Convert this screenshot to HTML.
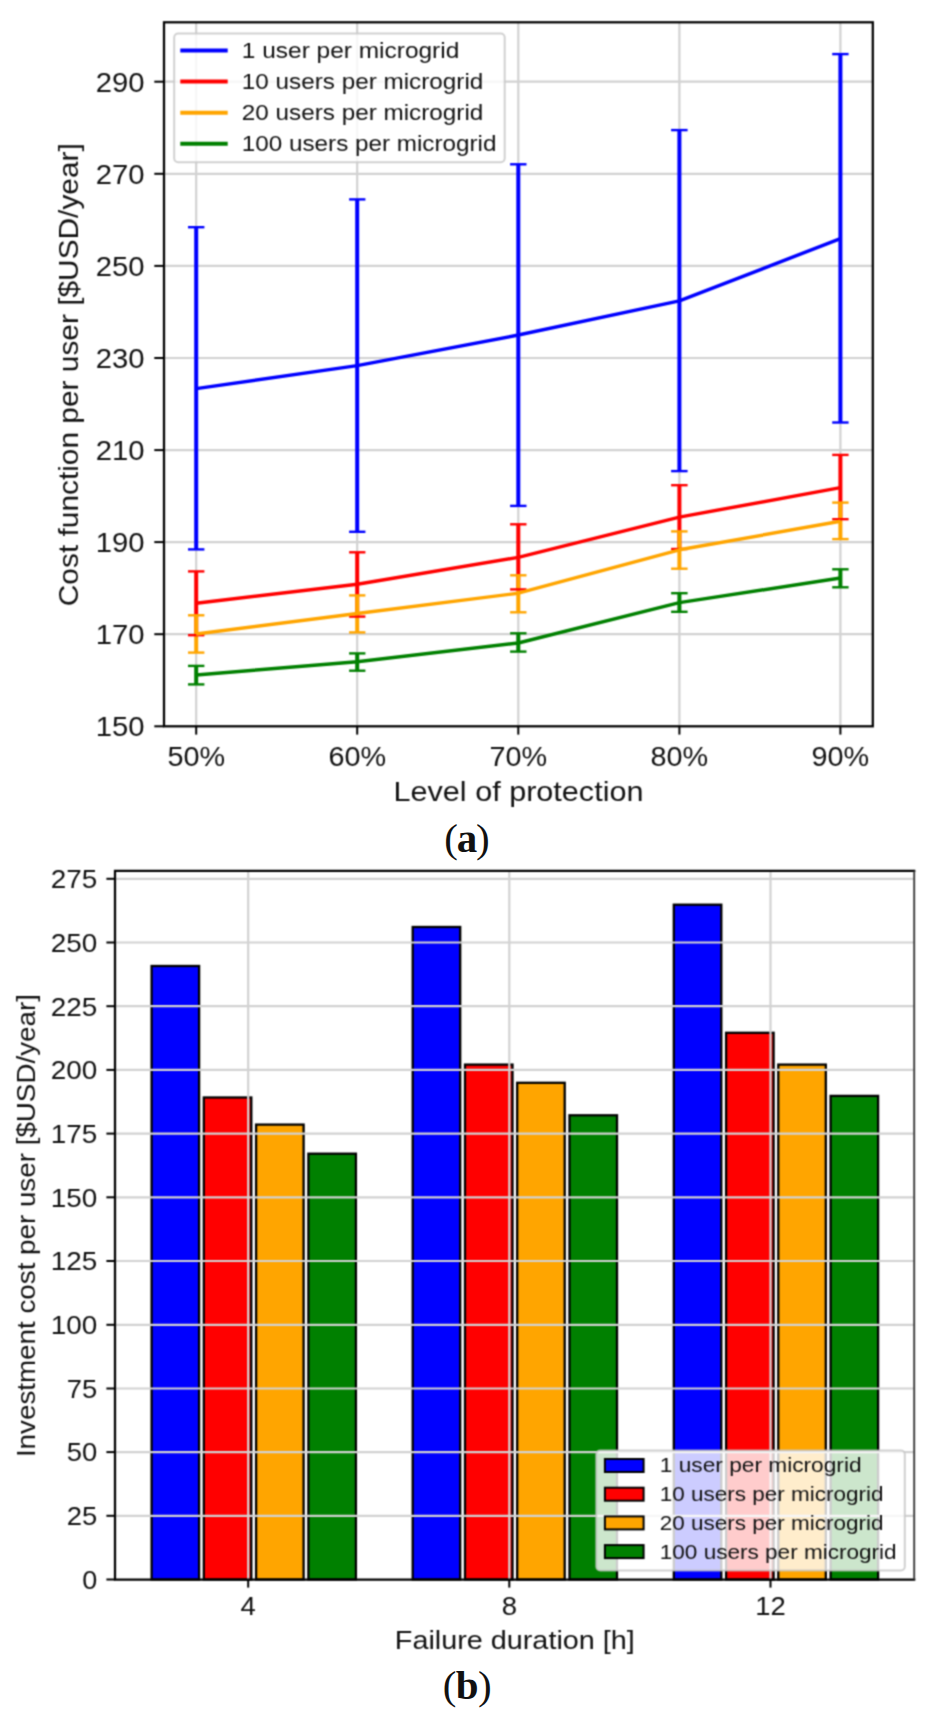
<!DOCTYPE html>
<html><head><meta charset="utf-8"><title>Figure</title>
<style>html,body{margin:0;padding:0;background:#fff}svg{display:block}text{font-family:"Liberation Sans",sans-serif;fill:#111}.cap{font-family:"Liberation Serif",serif;fill:#111}</style></head><body>
<svg width="940" height="1724" viewBox="0 0 940 1724">
<defs><filter id="soft" x="0" y="0" width="940" height="1724" filterUnits="userSpaceOnUse" color-interpolation-filters="sRGB"><feConvolveMatrix order="3" kernelMatrix="0.0484 0.1232 0.0484 0.1232 0.3136 0.1232 0.0484 0.1232 0.0484" divisor="1" edgeMode="duplicate" preserveAlpha="false"/></filter></defs>
<g id="all" filter="url(#soft)">
<rect width="940" height="1724" fill="#fff"/>
<g id="chartA">
<line x1="164.0" x2="872.8" y1="634.2" y2="634.2" stroke="#d2d2d2" stroke-width="2.2"/>
<line x1="164.0" x2="872.8" y1="542.1" y2="542.1" stroke="#d2d2d2" stroke-width="2.2"/>
<line x1="164.0" x2="872.8" y1="450.1" y2="450.1" stroke="#d2d2d2" stroke-width="2.2"/>
<line x1="164.0" x2="872.8" y1="358.0" y2="358.0" stroke="#d2d2d2" stroke-width="2.2"/>
<line x1="164.0" x2="872.8" y1="265.9" y2="265.9" stroke="#d2d2d2" stroke-width="2.2"/>
<line x1="164.0" x2="872.8" y1="173.8" y2="173.8" stroke="#d2d2d2" stroke-width="2.2"/>
<line x1="164.0" x2="872.8" y1="81.7" y2="81.7" stroke="#d2d2d2" stroke-width="2.2"/>
<line x1="196.2" x2="196.2" y1="22.3" y2="726.3" stroke="#d2d2d2" stroke-width="2.2"/>
<line x1="357.2" x2="357.2" y1="22.3" y2="726.3" stroke="#d2d2d2" stroke-width="2.2"/>
<line x1="518.3" x2="518.3" y1="22.3" y2="726.3" stroke="#d2d2d2" stroke-width="2.2"/>
<line x1="679.4" x2="679.4" y1="22.3" y2="726.3" stroke="#d2d2d2" stroke-width="2.2"/>
<line x1="840.4" x2="840.4" y1="22.3" y2="726.3" stroke="#d2d2d2" stroke-width="2.2"/>
<line x1="196.2" x2="196.2" y1="227.2" y2="549.4" stroke="#0000ff" stroke-width="4.0"/>
<line x1="357.2" x2="357.2" y1="199.4" y2="531.8" stroke="#0000ff" stroke-width="4.0"/>
<line x1="518.3" x2="518.3" y1="164.3" y2="505.9" stroke="#0000ff" stroke-width="4.0"/>
<line x1="679.4" x2="679.4" y1="130.1" y2="471.1" stroke="#0000ff" stroke-width="4.0"/>
<line x1="840.4" x2="840.4" y1="54.1" y2="422.5" stroke="#0000ff" stroke-width="4.0"/>
<line x1="196.2" x2="196.2" y1="571.4" y2="635.2" stroke="#ff0000" stroke-width="4.0"/>
<line x1="357.2" x2="357.2" y1="552.3" y2="616.6" stroke="#ff0000" stroke-width="4.0"/>
<line x1="518.3" x2="518.3" y1="524.3" y2="589.4" stroke="#ff0000" stroke-width="4.0"/>
<line x1="679.4" x2="679.4" y1="485.2" y2="549.0" stroke="#ff0000" stroke-width="4.0"/>
<line x1="840.4" x2="840.4" y1="454.9" y2="519.2" stroke="#ff0000" stroke-width="4.0"/>
<line x1="196.2" x2="196.2" y1="615.3" y2="652.6" stroke="#ffa500" stroke-width="4.0"/>
<line x1="357.2" x2="357.2" y1="595.4" y2="632.4" stroke="#ffa500" stroke-width="4.0"/>
<line x1="518.3" x2="518.3" y1="575.3" y2="612.3" stroke="#ffa500" stroke-width="4.0"/>
<line x1="679.4" x2="679.4" y1="531.4" y2="568.7" stroke="#ffa500" stroke-width="4.0"/>
<line x1="840.4" x2="840.4" y1="502.6" y2="539.1" stroke="#ffa500" stroke-width="4.0"/>
<line x1="196.2" x2="196.2" y1="665.9" y2="684.4" stroke="#008000" stroke-width="4.0"/>
<line x1="357.2" x2="357.2" y1="653.4" y2="670.7" stroke="#008000" stroke-width="4.0"/>
<line x1="518.3" x2="518.3" y1="633.3" y2="651.6" stroke="#008000" stroke-width="4.0"/>
<line x1="679.4" x2="679.4" y1="593.2" y2="611.8" stroke="#008000" stroke-width="4.0"/>
<line x1="840.4" x2="840.4" y1="569.3" y2="587.3" stroke="#008000" stroke-width="4.0"/>
<polyline points="196.2,388.6 357.2,365.6 518.3,335.0 679.4,300.9 840.4,238.6" fill="none" stroke="#0000ff" stroke-width="3.45" stroke-linejoin="round"/>
<line x1="188.0" x2="204.4" y1="227.2" y2="227.2" stroke="#0000ff" stroke-width="2.4"/>
<line x1="188.0" x2="204.4" y1="549.4" y2="549.4" stroke="#0000ff" stroke-width="2.4"/>
<line x1="349.1" x2="365.4" y1="199.4" y2="199.4" stroke="#0000ff" stroke-width="2.4"/>
<line x1="349.1" x2="365.4" y1="531.8" y2="531.8" stroke="#0000ff" stroke-width="2.4"/>
<line x1="510.1" x2="526.5" y1="164.3" y2="164.3" stroke="#0000ff" stroke-width="2.4"/>
<line x1="510.1" x2="526.5" y1="505.9" y2="505.9" stroke="#0000ff" stroke-width="2.4"/>
<line x1="671.1" x2="687.6" y1="130.1" y2="130.1" stroke="#0000ff" stroke-width="2.4"/>
<line x1="671.1" x2="687.6" y1="471.1" y2="471.1" stroke="#0000ff" stroke-width="2.4"/>
<line x1="832.2" x2="848.6" y1="54.1" y2="54.1" stroke="#0000ff" stroke-width="2.4"/>
<line x1="832.2" x2="848.6" y1="422.5" y2="422.5" stroke="#0000ff" stroke-width="2.4"/>
<polyline points="196.2,603.3 357.2,584.2 518.3,557.4 679.4,517.1 840.4,487.6" fill="none" stroke="#ff0000" stroke-width="3.45" stroke-linejoin="round"/>
<line x1="188.0" x2="204.4" y1="571.4" y2="571.4" stroke="#ff0000" stroke-width="2.4"/>
<line x1="188.0" x2="204.4" y1="635.2" y2="635.2" stroke="#ff0000" stroke-width="2.4"/>
<line x1="349.1" x2="365.4" y1="552.3" y2="552.3" stroke="#ff0000" stroke-width="2.4"/>
<line x1="349.1" x2="365.4" y1="616.6" y2="616.6" stroke="#ff0000" stroke-width="2.4"/>
<line x1="510.1" x2="526.5" y1="524.3" y2="524.3" stroke="#ff0000" stroke-width="2.4"/>
<line x1="510.1" x2="526.5" y1="589.4" y2="589.4" stroke="#ff0000" stroke-width="2.4"/>
<line x1="671.1" x2="687.6" y1="485.2" y2="485.2" stroke="#ff0000" stroke-width="2.4"/>
<line x1="671.1" x2="687.6" y1="549.0" y2="549.0" stroke="#ff0000" stroke-width="2.4"/>
<line x1="832.2" x2="848.6" y1="454.9" y2="454.9" stroke="#ff0000" stroke-width="2.4"/>
<line x1="832.2" x2="848.6" y1="519.2" y2="519.2" stroke="#ff0000" stroke-width="2.4"/>
<polyline points="196.2,634.0 357.2,613.5 518.3,593.2 679.4,549.8 840.4,521.3" fill="none" stroke="#ffa500" stroke-width="3.45" stroke-linejoin="round"/>
<line x1="188.0" x2="204.4" y1="615.3" y2="615.3" stroke="#ffa500" stroke-width="2.4"/>
<line x1="188.0" x2="204.4" y1="652.6" y2="652.6" stroke="#ffa500" stroke-width="2.4"/>
<line x1="349.1" x2="365.4" y1="595.4" y2="595.4" stroke="#ffa500" stroke-width="2.4"/>
<line x1="349.1" x2="365.4" y1="632.4" y2="632.4" stroke="#ffa500" stroke-width="2.4"/>
<line x1="510.1" x2="526.5" y1="575.3" y2="575.3" stroke="#ffa500" stroke-width="2.4"/>
<line x1="510.1" x2="526.5" y1="612.3" y2="612.3" stroke="#ffa500" stroke-width="2.4"/>
<line x1="671.1" x2="687.6" y1="531.4" y2="531.4" stroke="#ffa500" stroke-width="2.4"/>
<line x1="671.1" x2="687.6" y1="568.7" y2="568.7" stroke="#ffa500" stroke-width="2.4"/>
<line x1="832.2" x2="848.6" y1="502.6" y2="502.6" stroke="#ffa500" stroke-width="2.4"/>
<line x1="832.2" x2="848.6" y1="539.1" y2="539.1" stroke="#ffa500" stroke-width="2.4"/>
<polyline points="196.2,675.0 357.2,661.8 518.3,643.0 679.4,602.6 840.4,578.0" fill="none" stroke="#008000" stroke-width="3.45" stroke-linejoin="round"/>
<line x1="188.0" x2="204.4" y1="665.9" y2="665.9" stroke="#008000" stroke-width="2.4"/>
<line x1="188.0" x2="204.4" y1="684.4" y2="684.4" stroke="#008000" stroke-width="2.4"/>
<line x1="349.1" x2="365.4" y1="653.4" y2="653.4" stroke="#008000" stroke-width="2.4"/>
<line x1="349.1" x2="365.4" y1="670.7" y2="670.7" stroke="#008000" stroke-width="2.4"/>
<line x1="510.1" x2="526.5" y1="633.3" y2="633.3" stroke="#008000" stroke-width="2.4"/>
<line x1="510.1" x2="526.5" y1="651.6" y2="651.6" stroke="#008000" stroke-width="2.4"/>
<line x1="671.1" x2="687.6" y1="593.2" y2="593.2" stroke="#008000" stroke-width="2.4"/>
<line x1="671.1" x2="687.6" y1="611.8" y2="611.8" stroke="#008000" stroke-width="2.4"/>
<line x1="832.2" x2="848.6" y1="569.3" y2="569.3" stroke="#008000" stroke-width="2.4"/>
<line x1="832.2" x2="848.6" y1="587.3" y2="587.3" stroke="#008000" stroke-width="2.4"/>
<rect x="164.0" y="22.3" width="708.8" height="704.0" fill="none" stroke="#000" stroke-width="2.25"/>
<line x1="154.3" x2="164.0" y1="726.3" y2="726.3" stroke="#000" stroke-width="2.0"/>
<text x="144.6" y="736.2" font-size="27.2" text-anchor="end" textLength="48.8" lengthAdjust="spacingAndGlyphs">150</text>
<line x1="154.3" x2="164.0" y1="634.2" y2="634.2" stroke="#000" stroke-width="2.0"/>
<text x="144.6" y="644.1" font-size="27.2" text-anchor="end" textLength="48.8" lengthAdjust="spacingAndGlyphs">170</text>
<line x1="154.3" x2="164.0" y1="542.1" y2="542.1" stroke="#000" stroke-width="2.0"/>
<text x="144.6" y="552.0" font-size="27.2" text-anchor="end" textLength="48.8" lengthAdjust="spacingAndGlyphs">190</text>
<line x1="154.3" x2="164.0" y1="450.1" y2="450.1" stroke="#000" stroke-width="2.0"/>
<text x="144.6" y="460.0" font-size="27.2" text-anchor="end" textLength="48.8" lengthAdjust="spacingAndGlyphs">210</text>
<line x1="154.3" x2="164.0" y1="358.0" y2="358.0" stroke="#000" stroke-width="2.0"/>
<text x="144.6" y="367.9" font-size="27.2" text-anchor="end" textLength="48.8" lengthAdjust="spacingAndGlyphs">230</text>
<line x1="154.3" x2="164.0" y1="265.9" y2="265.9" stroke="#000" stroke-width="2.0"/>
<text x="144.6" y="275.8" font-size="27.2" text-anchor="end" textLength="48.8" lengthAdjust="spacingAndGlyphs">250</text>
<line x1="154.3" x2="164.0" y1="173.8" y2="173.8" stroke="#000" stroke-width="2.0"/>
<text x="144.6" y="183.7" font-size="27.2" text-anchor="end" textLength="48.8" lengthAdjust="spacingAndGlyphs">270</text>
<line x1="154.3" x2="164.0" y1="81.7" y2="81.7" stroke="#000" stroke-width="2.0"/>
<text x="144.6" y="91.6" font-size="27.2" text-anchor="end" textLength="48.8" lengthAdjust="spacingAndGlyphs">290</text>
<line x1="196.2" x2="196.2" y1="726.3" y2="734.6" stroke="#000" stroke-width="2.0"/>
<text x="196.2" y="765.8" font-size="27.2" text-anchor="middle" textLength="57.6" lengthAdjust="spacingAndGlyphs">50%</text>
<line x1="357.2" x2="357.2" y1="726.3" y2="734.6" stroke="#000" stroke-width="2.0"/>
<text x="357.2" y="765.8" font-size="27.2" text-anchor="middle" textLength="57.6" lengthAdjust="spacingAndGlyphs">60%</text>
<line x1="518.3" x2="518.3" y1="726.3" y2="734.6" stroke="#000" stroke-width="2.0"/>
<text x="518.3" y="765.8" font-size="27.2" text-anchor="middle" textLength="57.6" lengthAdjust="spacingAndGlyphs">70%</text>
<line x1="679.4" x2="679.4" y1="726.3" y2="734.6" stroke="#000" stroke-width="2.0"/>
<text x="679.4" y="765.8" font-size="27.2" text-anchor="middle" textLength="57.6" lengthAdjust="spacingAndGlyphs">80%</text>
<line x1="840.4" x2="840.4" y1="726.3" y2="734.6" stroke="#000" stroke-width="2.0"/>
<text x="840.4" y="765.8" font-size="27.2" text-anchor="middle" textLength="57.6" lengthAdjust="spacingAndGlyphs">90%</text>
<text transform="translate(77.6,374.7) rotate(-90)" font-size="27.2" text-anchor="middle" textLength="463" lengthAdjust="spacingAndGlyphs">Cost function per user [$USD/year]</text>
<text x="518.5" y="801.3" font-size="27.2" text-anchor="middle" textLength="250" lengthAdjust="spacingAndGlyphs">Level of protection</text>
<rect x="174.2" y="33.5" width="330.5" height="128.8" rx="4" ry="4" fill="#fff" fill-opacity="0.8" stroke="#c6c6c6" stroke-opacity="0.8" stroke-width="2"/>
<line x1="180.3" x2="227.7" y1="50.4" y2="50.4" stroke="#0000ff" stroke-width="4.0"/>
<text x="241.8" y="57.6" font-size="21.5" textLength="217.5" lengthAdjust="spacingAndGlyphs">1 user per microgrid</text>
<line x1="180.3" x2="227.7" y1="81.5" y2="81.5" stroke="#ff0000" stroke-width="4.0"/>
<text x="241.8" y="88.8" font-size="21.5" textLength="241.5" lengthAdjust="spacingAndGlyphs">10 users per microgrid</text>
<line x1="180.3" x2="227.7" y1="112.7" y2="112.7" stroke="#ffa500" stroke-width="4.0"/>
<text x="241.8" y="119.9" font-size="21.5" textLength="241.5" lengthAdjust="spacingAndGlyphs">20 users per microgrid</text>
<line x1="180.3" x2="227.7" y1="143.8" y2="143.8" stroke="#008000" stroke-width="4.0"/>
<text x="241.8" y="151.0" font-size="21.5" textLength="254.7" lengthAdjust="spacingAndGlyphs">100 users per microgrid</text>
</g>
<g id="chartB">
<rect x="151.6" y="966.0" width="47.5" height="613.5" fill="#0000ff" stroke="#000" stroke-width="2.3"/>
<rect x="203.8" y="1097.5" width="47.5" height="482.0" fill="#ff0000" stroke="#000" stroke-width="2.3"/>
<rect x="256.1" y="1124.6" width="47.5" height="454.9" fill="#ffa500" stroke="#000" stroke-width="2.3"/>
<rect x="308.4" y="1153.7" width="47.5" height="425.8" fill="#008000" stroke="#000" stroke-width="2.3"/>
<rect x="412.7" y="927.0" width="47.5" height="652.5" fill="#0000ff" stroke="#000" stroke-width="2.3"/>
<rect x="465.0" y="1064.6" width="47.5" height="514.9" fill="#ff0000" stroke="#000" stroke-width="2.3"/>
<rect x="517.2" y="1082.8" width="47.5" height="496.7" fill="#ffa500" stroke="#000" stroke-width="2.3"/>
<rect x="569.5" y="1115.3" width="47.5" height="464.2" fill="#008000" stroke="#000" stroke-width="2.3"/>
<rect x="673.8" y="904.7" width="47.5" height="674.8" fill="#0000ff" stroke="#000" stroke-width="2.3"/>
<rect x="726.1" y="1032.8" width="47.5" height="546.7" fill="#ff0000" stroke="#000" stroke-width="2.3"/>
<rect x="778.3" y="1064.6" width="47.5" height="514.9" fill="#ffa500" stroke="#000" stroke-width="2.3"/>
<rect x="830.6" y="1095.9" width="47.5" height="483.6" fill="#008000" stroke="#000" stroke-width="2.3"/>
<line x1="115.0" x2="914.2" y1="1515.8" y2="1515.8" stroke="#d2d2d2" stroke-width="2.2"/>
<line x1="115.0" x2="914.2" y1="1452.1" y2="1452.1" stroke="#d2d2d2" stroke-width="2.2"/>
<line x1="115.0" x2="914.2" y1="1388.5" y2="1388.5" stroke="#d2d2d2" stroke-width="2.2"/>
<line x1="115.0" x2="914.2" y1="1324.8" y2="1324.8" stroke="#d2d2d2" stroke-width="2.2"/>
<line x1="115.0" x2="914.2" y1="1261.0" y2="1261.0" stroke="#d2d2d2" stroke-width="2.2"/>
<line x1="115.0" x2="914.2" y1="1197.3" y2="1197.3" stroke="#d2d2d2" stroke-width="2.2"/>
<line x1="115.0" x2="914.2" y1="1133.6" y2="1133.6" stroke="#d2d2d2" stroke-width="2.2"/>
<line x1="115.0" x2="914.2" y1="1069.9" y2="1069.9" stroke="#d2d2d2" stroke-width="2.2"/>
<line x1="115.0" x2="914.2" y1="1006.2" y2="1006.2" stroke="#d2d2d2" stroke-width="2.2"/>
<line x1="115.0" x2="914.2" y1="942.5" y2="942.5" stroke="#d2d2d2" stroke-width="2.2"/>
<line x1="115.0" x2="914.2" y1="878.8" y2="878.8" stroke="#d2d2d2" stroke-width="2.2"/>
<line x1="248.2" x2="248.2" y1="870.9" y2="1579.5" stroke="#d2d2d2" stroke-width="2.2"/>
<line x1="509.3" x2="509.3" y1="870.9" y2="1579.5" stroke="#d2d2d2" stroke-width="2.2"/>
<line x1="770.5" x2="770.5" y1="870.9" y2="1579.5" stroke="#d2d2d2" stroke-width="2.2"/>
<polyline points="914.2,870.9 115.0,870.9 115.0,1579.5 914.2,1579.5" fill="none" stroke="#000" stroke-width="2.25" stroke-linecap="square"/>
<line x1="914.2" x2="914.2" y1="870.9" y2="1579.5" stroke="#3c3c3c" stroke-width="1.9"/>
<line x1="106.4" x2="115.0" y1="1579.5" y2="1579.5" stroke="#000" stroke-width="2.0"/>
<text x="97.2" y="1588.8" font-size="25.6" text-anchor="end" textLength="15.0" lengthAdjust="spacingAndGlyphs">0</text>
<line x1="106.4" x2="115.0" y1="1515.8" y2="1515.8" stroke="#000" stroke-width="2.0"/>
<text x="97.2" y="1525.0" font-size="25.6" text-anchor="end" textLength="30.5" lengthAdjust="spacingAndGlyphs">25</text>
<line x1="106.4" x2="115.0" y1="1452.1" y2="1452.1" stroke="#000" stroke-width="2.0"/>
<text x="97.2" y="1461.3" font-size="25.6" text-anchor="end" textLength="30.5" lengthAdjust="spacingAndGlyphs">50</text>
<line x1="106.4" x2="115.0" y1="1388.5" y2="1388.5" stroke="#000" stroke-width="2.0"/>
<text x="97.2" y="1397.7" font-size="25.6" text-anchor="end" textLength="30.5" lengthAdjust="spacingAndGlyphs">75</text>
<line x1="106.4" x2="115.0" y1="1324.8" y2="1324.8" stroke="#000" stroke-width="2.0"/>
<text x="97.2" y="1334.0" font-size="25.6" text-anchor="end" textLength="46.5" lengthAdjust="spacingAndGlyphs">100</text>
<line x1="106.4" x2="115.0" y1="1261.0" y2="1261.0" stroke="#000" stroke-width="2.0"/>
<text x="97.2" y="1270.2" font-size="25.6" text-anchor="end" textLength="46.5" lengthAdjust="spacingAndGlyphs">125</text>
<line x1="106.4" x2="115.0" y1="1197.3" y2="1197.3" stroke="#000" stroke-width="2.0"/>
<text x="97.2" y="1206.5" font-size="25.6" text-anchor="end" textLength="46.5" lengthAdjust="spacingAndGlyphs">150</text>
<line x1="106.4" x2="115.0" y1="1133.6" y2="1133.6" stroke="#000" stroke-width="2.0"/>
<text x="97.2" y="1142.8" font-size="25.6" text-anchor="end" textLength="46.5" lengthAdjust="spacingAndGlyphs">175</text>
<line x1="106.4" x2="115.0" y1="1069.9" y2="1069.9" stroke="#000" stroke-width="2.0"/>
<text x="97.2" y="1079.1" font-size="25.6" text-anchor="end" textLength="46.5" lengthAdjust="spacingAndGlyphs">200</text>
<line x1="106.4" x2="115.0" y1="1006.2" y2="1006.2" stroke="#000" stroke-width="2.0"/>
<text x="97.2" y="1015.5" font-size="25.6" text-anchor="end" textLength="46.5" lengthAdjust="spacingAndGlyphs">225</text>
<line x1="106.4" x2="115.0" y1="942.5" y2="942.5" stroke="#000" stroke-width="2.0"/>
<text x="97.2" y="951.8" font-size="25.6" text-anchor="end" textLength="46.5" lengthAdjust="spacingAndGlyphs">250</text>
<line x1="106.4" x2="115.0" y1="878.8" y2="878.8" stroke="#000" stroke-width="2.0"/>
<text x="97.2" y="888.0" font-size="25.6" text-anchor="end" textLength="46.5" lengthAdjust="spacingAndGlyphs">275</text>
<line x1="248.2" x2="248.2" y1="1579.5" y2="1587.6" stroke="#000" stroke-width="2.0"/>
<text x="248.2" y="1615.4" font-size="25.6" text-anchor="middle" textLength="15.3" lengthAdjust="spacingAndGlyphs">4</text>
<line x1="509.3" x2="509.3" y1="1579.5" y2="1587.6" stroke="#000" stroke-width="2.0"/>
<text x="509.3" y="1615.4" font-size="25.6" text-anchor="middle" textLength="15.3" lengthAdjust="spacingAndGlyphs">8</text>
<line x1="770.5" x2="770.5" y1="1579.5" y2="1587.6" stroke="#000" stroke-width="2.0"/>
<text x="770.5" y="1615.4" font-size="25.6" text-anchor="middle" textLength="30.5" lengthAdjust="spacingAndGlyphs">12</text>
<text transform="translate(35.2,1225.6) rotate(-90)" font-size="25.6" text-anchor="middle" textLength="463" lengthAdjust="spacingAndGlyphs">Investment cost per user [$USD/year]</text>
<text x="514.8" y="1648.5" font-size="25.6" text-anchor="middle" textLength="240" lengthAdjust="spacingAndGlyphs">Failure duration [h]</text>
<rect x="596.3" y="1450.4" width="308.5" height="120.1" rx="4" ry="4" fill="#fff" fill-opacity="0.8" stroke="#c6c6c6" stroke-opacity="0.8" stroke-width="2"/>
<rect x="604.9" y="1459.0" width="38.7" height="13.0" fill="#0000ff" stroke="#000" stroke-width="2"/>
<text x="659.8" y="1472.4" font-size="20.1" textLength="201.8" lengthAdjust="spacingAndGlyphs">1 user per microgrid</text>
<rect x="604.9" y="1487.7" width="38.7" height="13.0" fill="#ff0000" stroke="#000" stroke-width="2"/>
<text x="659.8" y="1501.1" font-size="20.1" textLength="223.8" lengthAdjust="spacingAndGlyphs">10 users per microgrid</text>
<rect x="604.9" y="1516.4" width="38.7" height="13.0" fill="#ffa500" stroke="#000" stroke-width="2"/>
<text x="659.8" y="1529.8" font-size="20.1" textLength="223.8" lengthAdjust="spacingAndGlyphs">20 users per microgrid</text>
<rect x="604.9" y="1545.1" width="38.7" height="13.0" fill="#008000" stroke="#000" stroke-width="2"/>
<text x="659.8" y="1558.5" font-size="20.1" textLength="236.8" lengthAdjust="spacingAndGlyphs">100 users per microgrid</text>
</g>
</g>
<text class="cap" x="467.0" y="851.6" font-size="41" text-anchor="middle">(<tspan dx="-1.2" font-weight="bold">a</tspan><tspan dx="-1.2">)</tspan></text>
<text class="cap" x="467.2" y="1698.9" font-size="41" text-anchor="middle">(<tspan dx="-0.5" font-weight="bold">b</tspan><tspan dx="-0.5">)</tspan></text>
</svg></body></html>
